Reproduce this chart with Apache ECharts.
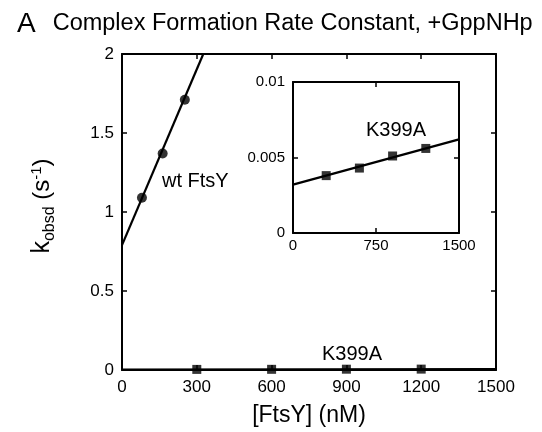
<!DOCTYPE html>
<html><head><meta charset="utf-8">
<script src="https://cdn.jsdelivr.net/npm/echarts@6/dist/echarts.min.js"></script>
<style>html,body{margin:0;padding:0;background:#fff}#c{width:542px;height:432px}</style>
</head><body><div id="c"></div>
<script>
// Data
const wtX = [80, 163, 252];
const wtY = [1.09, 1.37, 1.71];
const wtFitX = [0, 326];
const wtFitY = [0.79, 2.0];
const mutX = [300, 600, 900, 1200];
const mutY = [0.0038, 0.0043, 0.0051, 0.0056];
const mutFitX = [0, 1500];
const mutFitY = [0.0032, 0.0062];
const mainXTicks = [0, 300, 600, 900, 1200, 1500];
const mainYTicks = [0, 0.5, 1, 1.5, 2];
const insetXTicks = [0, 750, 1500];
const insetYTicks = [0, 0.005, 0.01];

const zip = (a, b) => a.map((v, i) => [v, b[i]]);
const F = 'Liberation Sans, Arial, sans-serif';
const axLine = {show: true, lineStyle: {color: '#000', width: 2}};
const tick = (len) => ({show: true, inside: true, length: len, lineStyle: {color: '#000', width: 1.5}});
const fmt = v => String(v);

function ax(grid, ticks, pos, showLabel, fs, margin, extra) {
  return Object.assign({
    type: 'value', gridIndex: grid, position: pos,
    min: ticks[0], max: ticks[ticks.length - 1], interval: ticks[1] - ticks[0],
    axisLine: Object.assign({onZero: false}, axLine), axisTick: tick(5), splitLine: {show: false},
    axisLabel: {show: showLabel, color: '#000', fontSize: fs, fontFamily: F, margin: margin, formatter: fmt}
  }, extra || {});
}

const chart = echarts.init(document.getElementById('c'), null, {renderer: 'canvas'});
chart.setOption({
  animation: false,
  backgroundColor: '#fff',
  title: {
    text: '{a|A}{t|Complex Formation Rate Constant, +GppNHp}',
    left: 12, top: 5,
    textStyle: {fontFamily: F, fontSize: 23.5, fontWeight: 'normal', color: '#000',
      rich: {
        a: {fontFamily: F, fontSize: 28, color: '#000', padding: [0, 17, 0, 0]},
        t: {fontFamily: F, fontSize: 23.5, color: '#000'}
      }}
  },
  grid: [
    {left: 122, top: 54, width: 374, height: 320, show: false},
    {left: 293, top: 82, width: 166, height: 151, show: true, backgroundColor: '#fff', borderWidth: 0}
  ],
  xAxis: [
    ax(0, mainXTicks, 'bottom', true, 17, 9, {
      name: '[FtsY] (nM)', nameLocation: 'middle', nameGap: 34,
      nameTextStyle: {fontFamily: F, fontSize: 23, color: '#000'}
    }),
    ax(0, mainXTicks, 'top', false, 17, 9),
    ax(1, insetXTicks, 'bottom', true, 15, 5),
    ax(1, insetXTicks, 'top', false, 15, 5)
  ],
  yAxis: [
    ax(0, mainYTicks, 'left', true, 17, 8, {
      name: '{k|k}{sub|obsd}{p| (s}{sup|-1}{p|)}', nameLocation: 'middle', nameGap: 64, nameRotate: 90,
      nameTextStyle: {fontFamily: F, color: '#000', padding: [0, 0, 0, 12], rich: {
        k: {fontFamily: F, fontSize: 25, color: '#000'},
        sub: {fontFamily: F, fontSize: 16, color: '#000', verticalAlign: 'top', padding: [16, 0, 0, 0]},
        p: {fontFamily: F, fontSize: 24, color: '#000'},
        sup: {fontFamily: F, fontSize: 15, color: '#000', verticalAlign: 'bottom', padding: [0, 0, 14, 0]}
      }}
    }),
    ax(0, mainYTicks, 'right', false, 17, 8),
    ax(1, insetYTicks, 'left', true, 15, 8),
    ax(1, insetYTicks, 'right', false, 15, 8)
  ],
  series: [
    {type: 'line', xAxisIndex: 0, yAxisIndex: 0, data: zip(wtFitX, wtFitY), symbol: 'none',
      lineStyle: {color: '#000', width: 2.2}, z: 3},
    {type: 'scatter', xAxisIndex: 0, yAxisIndex: 0, data: zip(wtX, wtY), symbol: 'circle', symbolSize: 10,
      itemStyle: {color: '#000'}, z: 4},
    {type: 'line', xAxisIndex: 0, yAxisIndex: 0, data: zip(mutFitX, mutFitY), symbol: 'none',
      lineStyle: {color: '#000', width: 2.2}, z: 3},
    {type: 'scatter', xAxisIndex: 0, yAxisIndex: 0, data: zip(mutX, mutY), symbol: 'rect', symbolSize: 9,
      itemStyle: {color: '#000'}, z: 4},
    {type: 'line', xAxisIndex: 2, yAxisIndex: 2, data: zip(mutFitX, mutFitY), symbol: 'none',
      lineStyle: {color: '#000', width: 2.2}, z: 13},
    {type: 'scatter', xAxisIndex: 2, yAxisIndex: 2, data: zip(mutX, mutY), symbol: 'rect', symbolSize: 9,
      itemStyle: {color: '#000'}, z: 14}
  ],
  graphic: [
    {type: 'text', left: 162, top: 171, style: {text: 'wt FtsY', font: '20px ' + F, fill: '#000'}},
    {type: 'text', left: 322, top: 344, style: {text: 'K399A', font: '20px ' + F, fill: '#000'}},
    {type: 'text', left: 366, top: 120, z: 20, style: {text: 'K399A', font: '20px ' + F, fill: '#000'}}
  ]
});
</script></body></html>
